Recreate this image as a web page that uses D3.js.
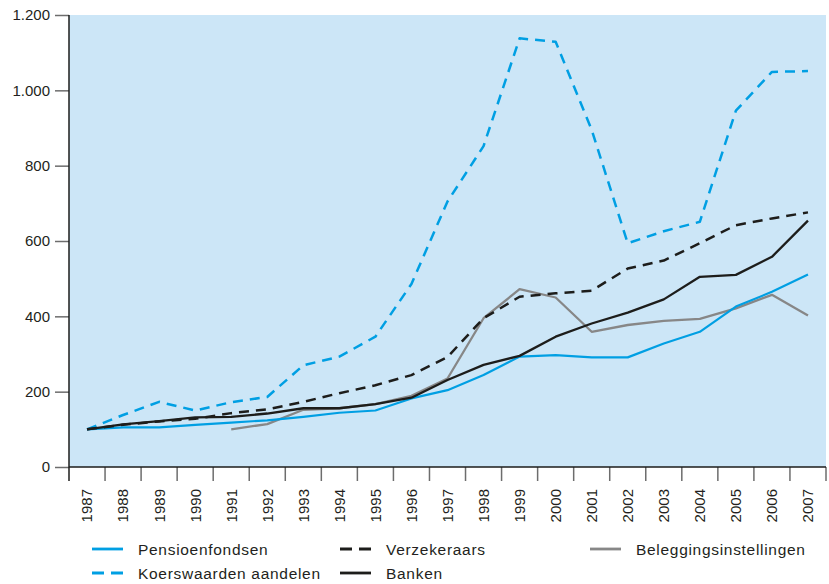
<!DOCTYPE html>
<html>
<head>
<meta charset="utf-8">
<script src="https://cdn.jsdelivr.net/npm/d3@7"></script>
<style>
  body { margin: 0; background: #fff; }
  text { font-family: "Liberation Sans", Arial, sans-serif; fill: #231f20; }
</style>
</head>
<body>
<svg id="chart"></svg>
<script>
// years on the x axis
var years = [1987, 1988, 1989, 1990, 1991, 1992, 1993, 1994, 1995, 1996, 1997,
             1998, 1999, 2000, 2001, 2002, 2003, 2004, 2005, 2006, 2007];

// index values (1987 = 100)
var pensioenfondsen = [100, 105, 105, 112, 118, 124, 133, 144, 150, 182, 204,
                       244, 293, 297, 291, 291, 328, 359, 426, 465, 511];
var koerswaarden = [100, 138, 173, 150, 172, 186, 270, 293, 346, 486, 705,
                    852, 1138, 1129, 895, 594, 626, 651, 946, 1049, 1051];
var verzekeraars = [100, 112, 121, 128, 143, 153, 173, 196, 217, 244, 292,
                    395, 452, 461, 468, 527, 548, 594, 642, 660, 676];
var banken = [100, 113, 122, 132, 133, 142, 156, 156, 167, 184, 231,
              271, 295, 346, 381, 410, 445, 505, 510, 558, 654];
// starts in 1991
var beleggingsinst = [null, null, null, null, 100, 114, 152, 156, 167, 189, 235,
                      395, 472, 450, 359, 377, 388, 393, 421, 457, 402];

var yTicks = [0, 200, 400, 600, 800, 1000, 1200];

(function () {
  var W = 829, H = 584;
  var pLeft = 69, pRight = 826, pTop = 15, pBottom = 467;

  var blue = "#009fe3", black = "#1d1d1b", gray = "#878787", bg = "#cce6f7";

  var svg = d3.select("#chart").attr("width", W).attr("height", H);

  var x = d3.scaleBand().domain(years).range([pLeft, pRight]);
  var y = d3.scaleLinear().domain([0, 1200]).range([pBottom, pTop]);

  // plot background
  svg.append("rect")
    .attr("x", pLeft).attr("y", pTop)
    .attr("width", pRight - pLeft).attr("height", pBottom - pTop)
    .attr("fill", bg);

  // y axis with dutch thousands separator
  var nl = d3.formatLocale({ decimal: ",", thousands: ".", grouping: [3], currency: ["", ""] });
  var yAxis = d3.axisLeft(y).tickValues(yTicks).tickSize(14).tickPadding(5)
    .tickFormat(nl.format(","));
  var gy = svg.append("g").attr("transform", "translate(" + pLeft + ",0)").call(yAxis);
  gy.select(".domain").remove();
  gy.selectAll(".tick line").attr("stroke", "#6d6d6d").attr("stroke-width", 1.5);
  gy.selectAll(".tick text").attr("font-size", 15).attr("fill", "#231f20")
    .attr("font-family", "Liberation Sans, Arial, sans-serif");

  // tick marks at the band edges
  var edges = years.map(function (d) { return x(d); }).concat([pRight]);
  svg.append("g").selectAll("line")
    .data(edges.slice(1))
    .enter().append("line")
    .attr("x1", function (d) { return d; }).attr("x2", function (d) { return d; })
    .attr("y1", pBottom).attr("y2", pBottom + 14)
    .attr("stroke", "#6d6d6d").attr("stroke-width", 1.5);

  // axis lines
  svg.append("line").attr("x1", pLeft).attr("x2", pLeft).attr("y1", pTop).attr("y2", pBottom + 14)
    .attr("stroke", black).attr("stroke-width", 1.5);
  svg.append("line").attr("x1", pLeft).attr("x2", pRight).attr("y1", pBottom).attr("y2", pBottom)
    .attr("stroke", black).attr("stroke-width", 1.5);

  // year labels, rotated
  svg.append("g").selectAll("text")
    .data(years)
    .enter().append("text")
    .attr("transform", function (d) {
      return "translate(" + (x(d) + x.bandwidth() / 2) + "," + (pBottom + 22) + ") rotate(-90)";
    })
    .attr("text-anchor", "end")
    .attr("dy", "0.36em")
    .attr("font-size", 15)
    .text(function (d) { return d; });

  var series = [
    { name: "Pensioenfondsen", values: pensioenfondsen, color: blue, dash: null, w: 2.2 },
    { name: "Koerswaarden aandelen", values: koerswaarden, color: blue, dash: "10,7", w: 2.5 },
    { name: "Verzekeraars", values: verzekeraars, color: black, dash: "10,7", w: 2.5 },
    { name: "Banken", values: banken, color: black, dash: null, w: 2.3 },
    { name: "Beleggingsinstellingen", values: beleggingsinst, color: gray, dash: null, w: 2.3 }
  ];

  var line = d3.line()
    .defined(function (d) { return d.v != null; })
    .x(function (d) { return x(d.year) + x.bandwidth() / 2; })
    .y(function (d) { return y(d.v); });

  // draw order: gray underneath, then blue, then black
  var order = [4, 0, 1, 2, 3];
  svg.append("g").selectAll("path")
    .data(order.map(function (i) { return series[i]; }))
    .enter().append("path")
    .attr("fill", "none")
    .attr("stroke", function (d) { return d.color; })
    .attr("stroke-width", function (d) { return d.w; })
    .attr("stroke-dasharray", function (d) { return d.dash; })
    .attr("stroke-linejoin", "round")
    .attr("d", function (d) {
      return line(years.map(function (yr, i) { return { year: yr, v: d.values[i] }; }));
    });

  // legend
  var legendPos = [
    { s: 0, x: 92, y: 549 },
    { s: 1, x: 92, y: 573 },
    { s: 2, x: 340, y: 549 },
    { s: 3, x: 340, y: 573 },
    { s: 4, x: 590, y: 549 }
  ];
  var lg = svg.append("g").selectAll("g")
    .data(legendPos)
    .enter().append("g")
    .attr("transform", function (d) { return "translate(" + d.x + "," + d.y + ")"; });
  lg.append("line")
    .attr("x1", 0).attr("x2", 31).attr("y1", 0).attr("y2", 0)
    .attr("stroke", function (d) { return series[d.s].color; })
    .attr("stroke-width", 2.8)
    .attr("stroke-dasharray", function (d) { return series[d.s].dash ? "12,7" : null; });
  lg.append("text")
    .attr("x", 46).attr("dy", "0.36em")
    .attr("font-size", 15.5)
    .attr("letter-spacing", "0.7px")
    .text(function (d) { return series[d.s].name; });
})();
</script>
</body>
</html>
